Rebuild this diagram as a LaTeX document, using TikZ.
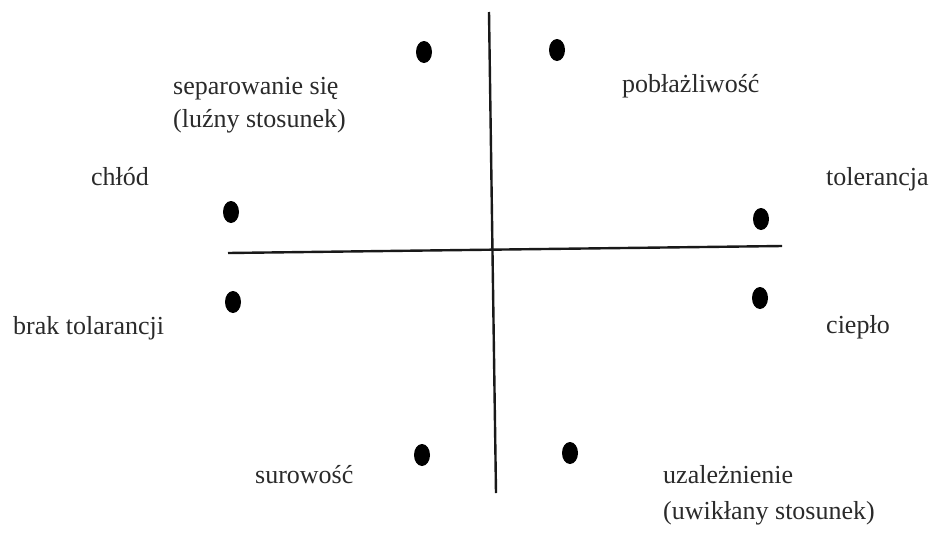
\documentclass[tikz,border=0pt]{standalone}
\usepackage{fontspec}
\setmainfont{Liberation Serif}
\usetikzlibrary{shapes.geometric}
\definecolor{txtgray}{HTML}{2A2A2A}
\tikzset{
  dot/.style={ellipse, fill=black, draw=none, minimum width=16pt, minimum height=22pt, inner sep=0pt},
  lbl/.style={anchor=base west, inner sep=0pt, text=txtgray, font=\fontsize{26}{31}\selectfont},
  axis/.style={line width=2.4pt, draw=black!90}
}
\begin{document}
\begin{tikzpicture}[x=1pt,y=-1pt]
\useasboundingbox[fill=white] (0,0) rectangle (931,536);
% axes
\coordinate (vtop) at (489,12);
\coordinate (vbot) at (496,493);
\coordinate (hleft) at (228,253);
\coordinate (hright) at (782,246);
\draw[axis] (vtop) -- (vbot);
\draw[axis] (hleft) -- (hright);
% dots
\node[dot] (d1) at (424,52) {};
\node[dot] (d2) at (557,50) {};
\node[dot] (d3) at (231,212) {};
\node[dot] (d4) at (233,302) {};
\node[dot] (d5) at (761,219) {};
\node[dot] (d6) at (760,298) {};
\node[dot] (d7) at (422,455) {};
\node[dot] (d8) at (570,453) {};
% labels
\node[lbl] (t1) at (173,94) {separowanie się};
\node[lbl] (t1b) at (173,127) {(luźny stosunek)};
\node[lbl] (t2) at (622,92) {pobłażliwość};
\node[lbl] (t3) at (91,185) {chłód};
\node[lbl] (t4) at (13,334) {brak tolarancji};
\node[lbl] (t5) at (826,185) {tolerancja};
\node[lbl] (t6) at (826,333) {ciepło};
\node[lbl] (t7) at (255,483) {surowość};
\node[lbl] (t8) at (663,483) {uzależnienie};
\node[lbl] (t8b) at (663,519) {(uwikłany stosunek)};
\end{tikzpicture}
\end{document}
